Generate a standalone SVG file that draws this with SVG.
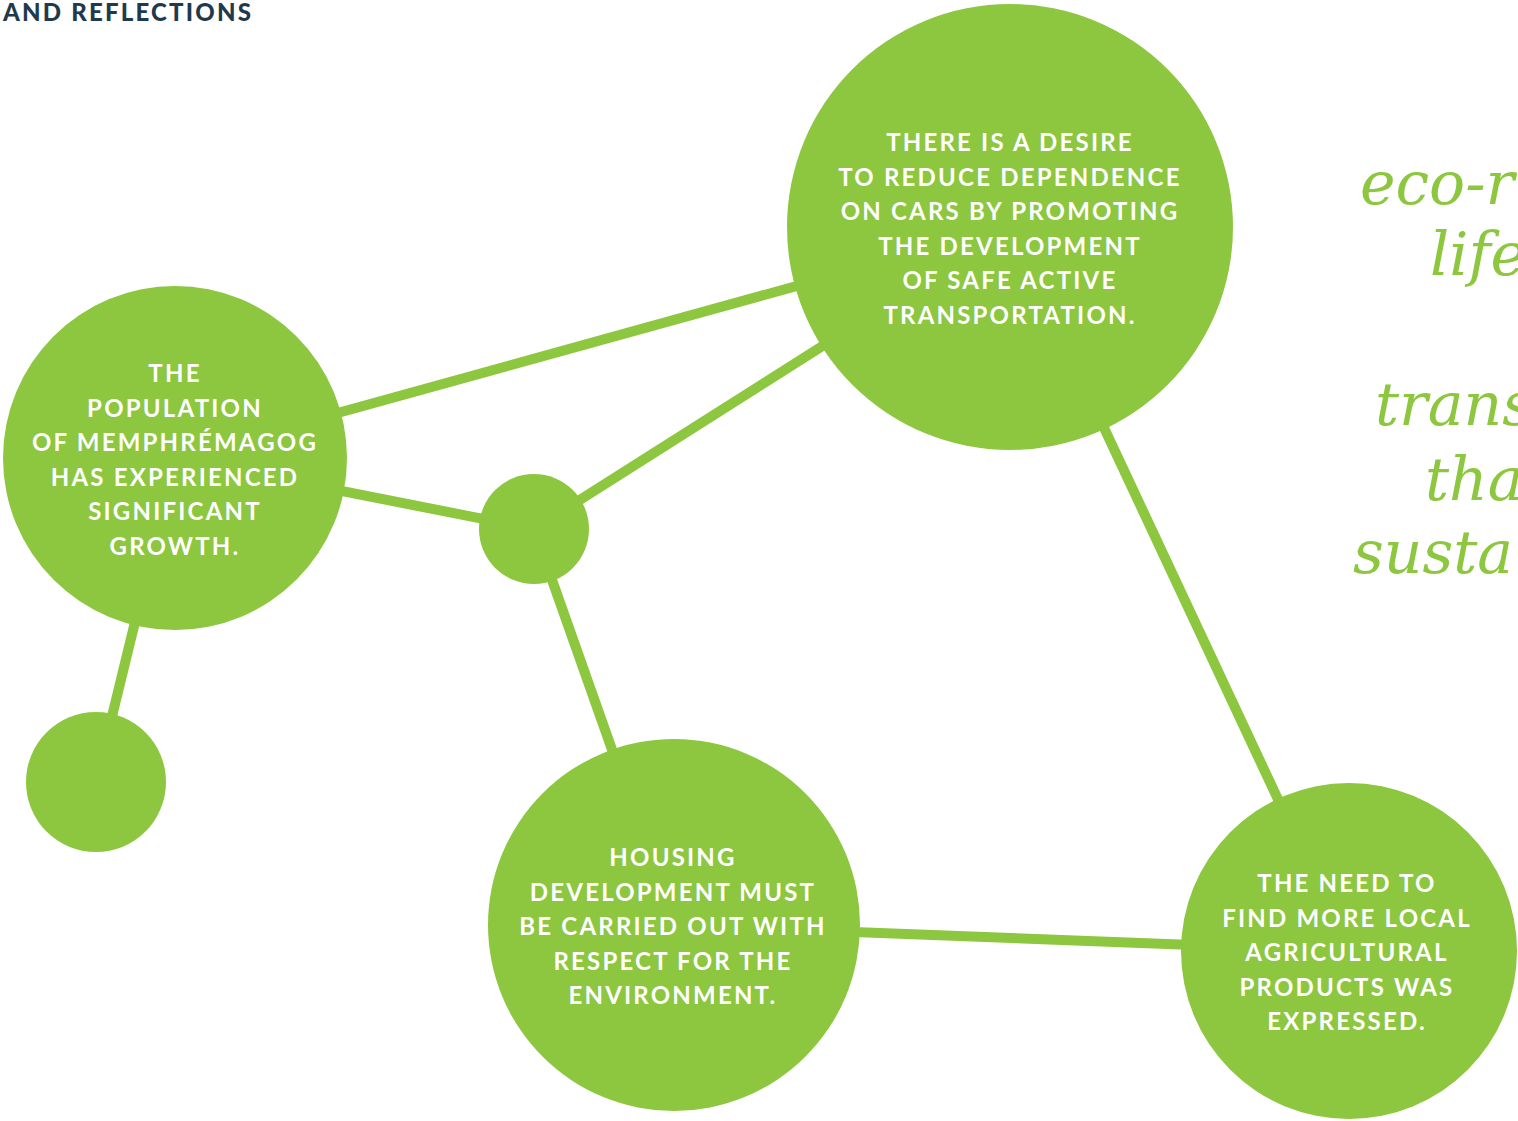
<svg xmlns="http://www.w3.org/2000/svg" width="1518" height="1121" viewBox="0 0 1518 1121">
<style>
.n{fill:#8dc63f}
.e{stroke:#8dc63f;stroke-width:10;fill:none}
.t{font-family:Lato,"Liberation Sans",sans-serif;font-weight:700;font-size:24px;fill:#fff;text-anchor:middle;letter-spacing:2.2px}
.it{font-family:"DejaVu Serif","Liberation Serif",serif;font-style:italic;font-size:60px;fill:#8dc63f}
.h{font-family:Lato,"Liberation Sans",sans-serif;font-weight:900;font-size:24px;fill:#1e3a4c;letter-spacing:2.2px}
</style>
<rect width="1518" height="1121" fill="#fff"/>
<text class="h" x="3" y="21">AND REFLECTIONS</text>
<g id="quote">
<text class="it" x="1360" y="204">eco-r</text>
<text class="it" x="1430" y="275">life</text>
<text class="it" x="1375" y="425">trans</text>
<text class="it" x="1425" y="500">tha</text>
<text class="it" x="1353" y="573">susta</text>
</g>
<g id="connectors">
<line class="e" x1="175" y1="458" x2="1010" y2="227"/>
<line class="e" x1="1010" y1="227" x2="534" y2="529"/>
<line class="e" x1="175" y1="458" x2="534" y2="529"/>
<line class="e" x1="534" y1="529" x2="674" y2="925"/>
<line class="e" x1="175" y1="458" x2="96" y2="782"/>
<line class="e" x1="1010" y1="227" x2="1349" y2="951"/>
<line class="e" x1="674" y1="925" x2="1349" y2="951"/>
</g>
<g id="node-transport">
<circle class="n" cx="1010" cy="227" r="223"/>
<text class="t"><tspan x="1010" y="151">THERE IS A DESIRE</tspan><tspan x="1010" y="185.5">TO REDUCE DEPENDENCE</tspan><tspan x="1010" y="220">ON CARS BY PROMOTING</tspan><tspan x="1010" y="254.5">THE DEVELOPMENT</tspan><tspan x="1010" y="289">OF SAFE ACTIVE</tspan><tspan x="1010" y="323.5">TRANSPORTATION.</tspan></text>
</g>
<g id="node-population">
<circle class="n" cx="175" cy="458" r="172"/>
<text class="t"><tspan x="175" y="382">THE</tspan><tspan x="175" y="416.5">POPULATION</tspan><tspan x="175" y="451">OF MEMPHRÉMAGOG</tspan><tspan x="175" y="485.5">HAS EXPERIENCED</tspan><tspan x="175" y="520">SIGNIFICANT</tspan><tspan x="175" y="554.5">GROWTH.</tspan></text>
</g>
<g id="node-hub"><circle class="n" cx="534" cy="529" r="55"/></g>
<g id="node-small"><circle class="n" cx="96" cy="782" r="70"/></g>
<g id="node-housing">
<circle class="n" cx="674" cy="925" r="186"/>
<text class="t"><tspan x="673" y="866">HOUSING</tspan><tspan x="673" y="900.5">DEVELOPMENT MUST</tspan><tspan x="673" y="935">BE CARRIED OUT WITH</tspan><tspan x="673" y="969.5">RESPECT FOR THE</tspan><tspan x="673" y="1004">ENVIRONMENT.</tspan></text>
</g>
<g id="node-agri">
<circle class="n" cx="1349" cy="951" r="168"/>
<text class="t"><tspan x="1347" y="892">THE NEED TO</tspan><tspan x="1347" y="926.5">FIND MORE LOCAL</tspan><tspan x="1347" y="961">AGRICULTURAL</tspan><tspan x="1347" y="995.5">PRODUCTS WAS</tspan><tspan x="1347" y="1030">EXPRESSED.</tspan></text>
</g>
</svg>
